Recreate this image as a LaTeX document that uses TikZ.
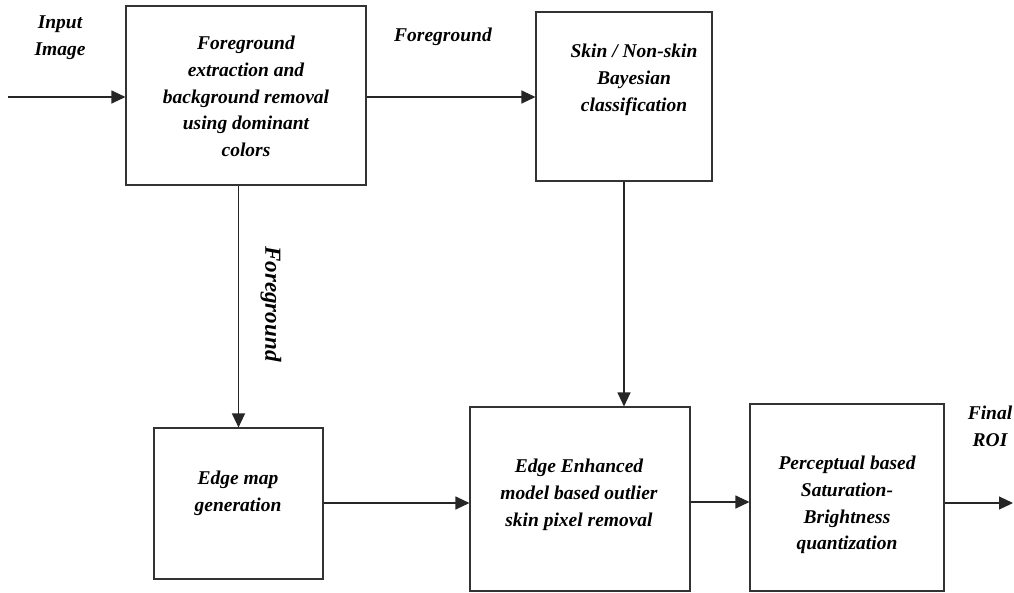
\documentclass[tikz,border=0pt]{standalone}
\usepackage{fontspec}
\setmainfont{Liberation Serif}
\usetikzlibrary{arrows.meta}
\begin{document}
\begin{tikzpicture}[x=1pt,y=-1pt,
  boxnode/.style={draw=black!80, line width=1.1pt, inner sep=0pt},
  txt/.style={font=\fontsize{19.5}{26.8}\selectfont\bfseries\itshape, align=center, inner sep=0pt},
  arr/.style={draw=black!85, line width=1.1pt, -{Triangle[length=14pt,width=13pt]}}]
\useasboundingbox (0,0) rectangle (1014,592);
% boxes
\node[boxnode, minimum width=240pt, minimum height=179pt] (b1) at (246,95.5) {};
\node[boxnode, minimum width=176pt, minimum height=169pt] (b2) at (624,96.5) {};
\node[boxnode, minimum width=169pt, minimum height=151pt] (b3) at (238.5,503.5) {};
\node[boxnode, minimum width=220pt, minimum height=184pt] (b4) at (580,499) {};
\node[boxnode, minimum width=194pt, minimum height=187pt] (b5) at (847,497.5) {};
% box texts
\node[txt] (t1) at (246,96.5) {Foreground\\extraction and\\background removal\\using dominant\\colors};
\node[txt] (t2) at (634,80) {Skin / Non-skin\\Bayesian\\classification};
\node[txt] (t3) at (238,493) {Edge map\\generation};
\node[txt] (t4) at (579,495) {Edge Enhanced\\model based outlier\\skin pixel removal};
\node[txt] (t5) at (847,505) {Perceptual based\\Saturation-\\Brightness\\quantization};
% labels
\node[txt] (lin) at (60,38) {Input\\Image};
\node[txt] (lfg) at (443,37) {Foreground};
\node[txt, font=\fontsize{23}{27}\selectfont\bfseries\itshape, rotate=-90] (lfg2) at (271,304) {Foreground};
\node[txt] (lout) at (990,426) {Final\\ROI};
% connectors
\coordinate (in) at (8,97);
\coordinate (out) at (1013,503);
\draw[arr] (in) -- (in -| b1.west);
\draw[arr] (b1.east |- 0,97) -- (b2.west |- 0,97);
\draw[arr] (b3.north |- b1.south) -- (b3.north);
\draw[arr] (b2.south) -- (b2.south |- b4.north);
\draw[arr] (b3.east |- 0,503) -- (b4.west |- 0,503);
\draw[arr] (b4.east |- 0,502) -- (b5.west |- 0,502);
\draw[arr] (b5.east |- out) -- (out);
\end{tikzpicture}
\end{document}
